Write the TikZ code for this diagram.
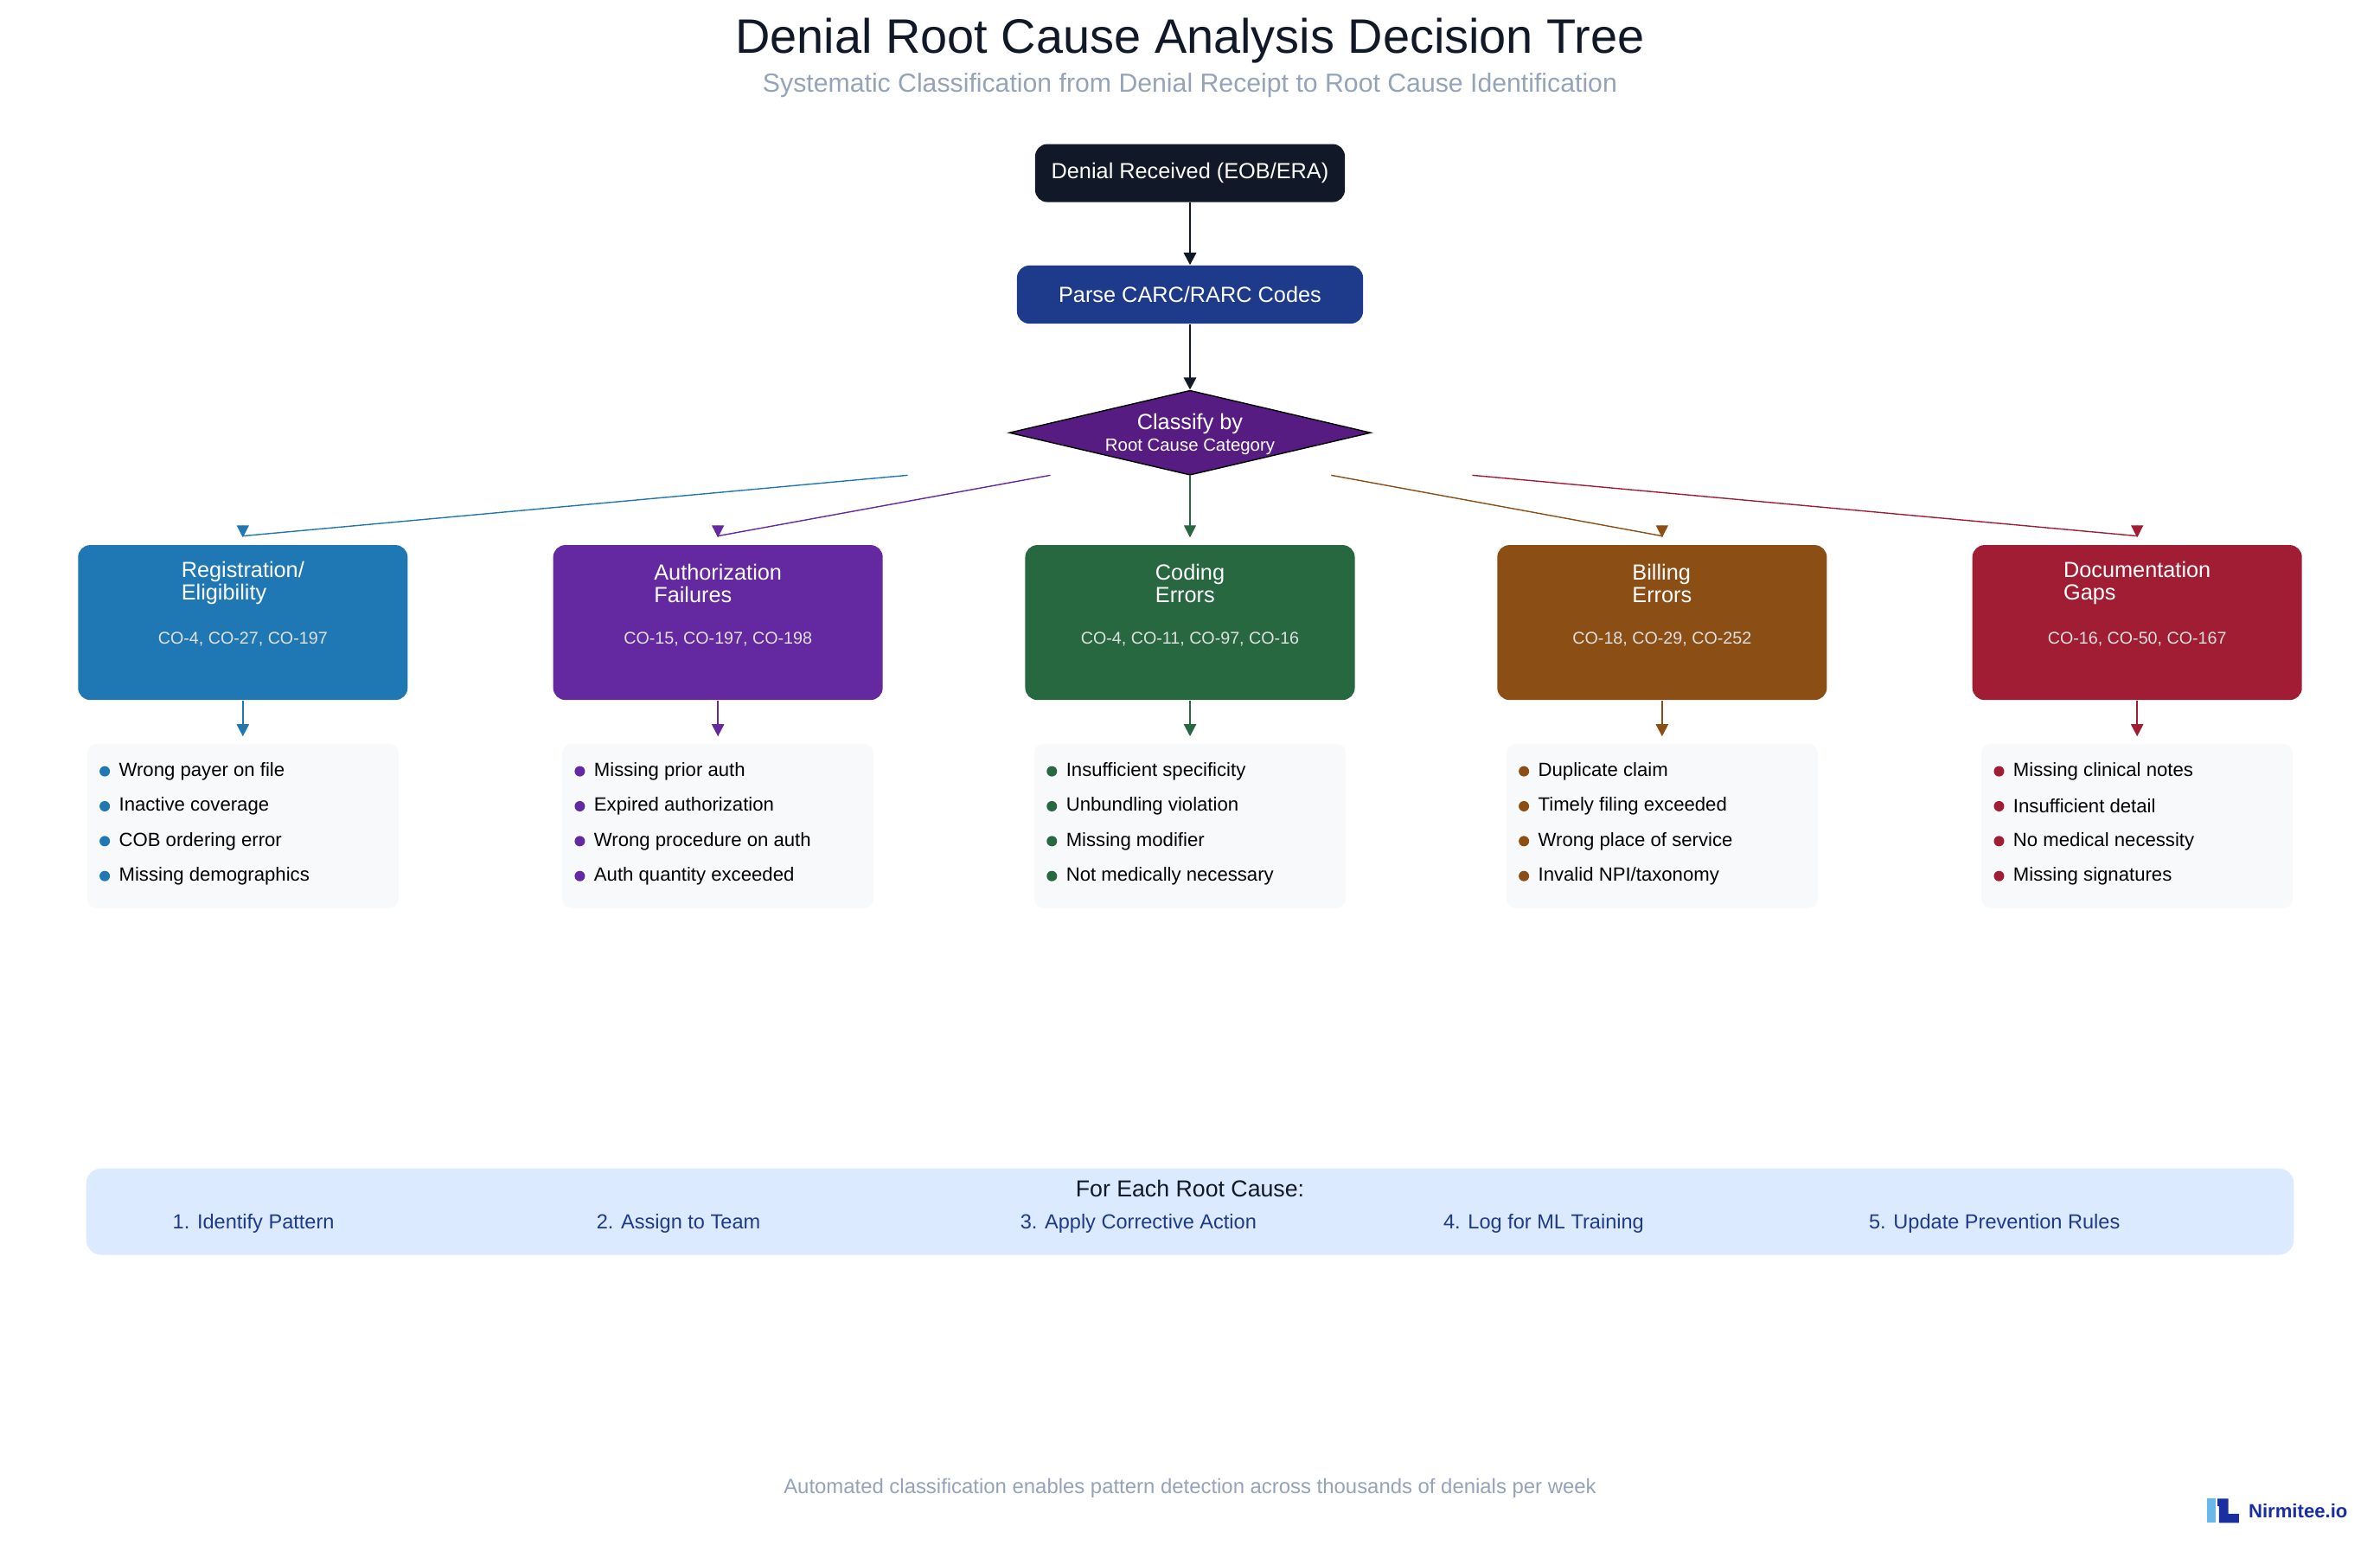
\documentclass[tikz,border=0pt]{standalone}
\usepackage{fontspec}
\setmainfont{Liberation Sans}
\usetikzlibrary{shapes.geometric,arrows.meta,positioning}
\definecolor{ink}{HTML}{111827}
\definecolor{navy}{HTML}{1E3A8A}
\definecolor{violet}{HTML}{561C82}
\definecolor{regc}{HTML}{1F78B4}
\definecolor{authc}{HTML}{6429A0}
\definecolor{codec}{HTML}{276840}
\definecolor{billc}{HTML}{8B4E14}
\definecolor{docc}{HTML}{A01D33}
\definecolor{subgray}{HTML}{94A3B8}
\definecolor{listbg}{HTML}{F7F9FB}
\definecolor{panelbg}{HTML}{DBEAFE}
\tikzset{
  flowbox/.style={rounded corners=4pt,inner sep=0pt,text=white,font=\fontsize{7.2}{8}\selectfont,minimum height=0.67cm},
  cat/.style={rounded corners=4pt,inner sep=0pt,minimum width=3.81cm,minimum height=1.79cm},
  cattitle/.style={text=white,align=left,font=\fontsize{7.2}{7.4}\selectfont,inner sep=0pt},
  codes/.style={text=white!88!black,font=\fontsize{5.6}{6}\selectfont,inner sep=0pt},
  listbox/.style={rounded corners=3pt,fill=listbg,inner sep=0pt,minimum width=3.6cm,minimum height=1.9cm},
  listitem/.style={anchor=west,font=\fontsize{6.3}{7}\selectfont,inner sep=0pt},
  bullet/.style={circle,inner sep=0pt,minimum size=0.12cm},
  flow/.style={-{Triangle[length=4pt,width=4pt]},line width=0.8pt},
  fan/.style={-{Triangle[length=4pt,width=4pt]},line width=0.4pt},
  stepitem/.style={text=navy,font=\fontsize{6.7}{7}\selectfont,inner sep=0pt}
}
\begin{document}
\begin{tikzpicture}[x=0.01755cm,y=-0.01755cm]
\useasboundingbox (0,0) rectangle (1568,1025.6);
% title
\node[font=\fontsize{15.9}{17}\selectfont,text=ink] (title) at (784,27) {Denial Root Cause Analysis Decision Tree};
\node[font=\fontsize{8.6}{10}\selectfont,text=subgray] (subtitle) at (784,56) {Systematic Classification from Denial Receipt to Root Cause Identification};
% main flow
\node[flowbox,fill=ink,minimum width=3.58cm] (recv) at (784,114) {Denial Received (EOB/ERA)};
\node[flowbox,fill=navy,minimum width=4.0cm] (parse) at (784,194) {Parse CARC/RARC Codes};
\node[diamond,fill=violet,draw=black,line width=0.4pt,minimum width=4.18cm,minimum height=0.98cm,aspect=4.25,inner sep=0pt] (cls) at (784,285) {};
\node[text=white,font=\fontsize{7.2}{8}\selectfont,inner sep=0pt] (clsa) at (784,279) {Classify by};
\node[text=white,font=\fontsize{5.8}{6}\selectfont,inner sep=0pt] (clsb) at (784,294) {Root Cause Category};
\draw[flow,ink] (recv) -- (parse);
\draw[flow,ink] (parse) -- (cls);
% fan-out start points
\coordinate (f1) at (598,313);
\coordinate (f2) at (692,313);
\coordinate (f3) at (784,313);
\coordinate (f4) at (877,313);
\coordinate (f5) at (970,313);
% categories
\foreach \i/\x/\col/\ta/\tb/\cd/\la/\lb/\lc/\ld in {
  1/160/regc/Registration\slash/Eligibility/{CO-4, CO-27, CO-197}/Wrong payer on file/Inactive coverage/COB ordering error/Missing demographics,
  2/473/authc/Authorization/Failures/{CO-15, CO-197, CO-198}/Missing prior auth/Expired authorization/Wrong procedure on auth/Auth quantity exceeded,
  3/784/codec/Coding/Errors/{CO-4, CO-11, CO-97, CO-16}/Insufficient specificity/Unbundling violation/Missing modifier/Not medically necessary,
  4/1095/billc/Billing/Errors/{CO-18, CO-29, CO-252}/Duplicate claim/Timely filing exceeded/Wrong place of service/Invalid NPI\slash taxonomy,
  5/1408/docc/Documentation/Gaps/{CO-16, CO-50, CO-167}/Missing clinical notes/Insufficient detail/No medical necessity/Missing signatures}{
  \node[cat,fill=\col] (cat\i) at (\x,410) {};
  \node[cattitle] (t\i) at (\x,384) {\ta\\\tb};
  \node[codes] (c\i) at (\x,421) {\cd};
  \coordinate (in\i) at (\x,353);
  \coordinate (tip\i) at (\x,354);
  \draw[fan,\col] (f\i) -- (in\i) -- (tip\i);
  \coordinate (lt\i) at (\x,485);
  \node[listbox] (list\i) at (\x,544) {};
  \draw[fan,\col,line width=0.6pt] (cat\i) -- (lt\i);
  \foreach \k/\txt/\yy in {1/\la/508,2/\lb/531,3/\lc/554,4/\ld/577}{
    \node[bullet,fill=\col] (d\i\k) at (\x-91,\yy) {};
    \node[listitem] (it\i\k) at (\x-82,\yy) {\txt};
  }
}
% bottom panel
\node[rounded corners=5pt,fill=panelbg,minimum width=25.52cm,minimum height=1.0cm,inner sep=0pt] (panel) at (784,798) {};
\node[font=\fontsize{7.6}{8}\selectfont,text=ink,inner sep=0pt] (ptitle) at (784,783) {For Each Root Cause:};
\node[stepitem] (s1) at (167,806) {1. Identify Pattern};
\node[stepitem] (s2) at (447,806) {2. Assign to Team};
\node[stepitem] (s3) at (750,806) {3. Apply Corrective Action};
\node[stepitem] (s4) at (1017,806) {4. Log for ML Training};
\node[stepitem] (s5) at (1314,806) {5. Update Prevention Rules};
% footer
\node[font=\fontsize{6.8}{7}\selectfont,text=subgray,inner sep=0pt] (foot) at (784,980) {Automated classification enables pattern detection across thousands of denials per week};
% logo
\fill[cyan!80!blue!60] (1454,987) rectangle (1460,1003);
\fill[navy!80!blue] (1462,987) rectangle (1468,1003) (1462,997) rectangle (1475,1003) (1461,987) rectangle (1468,992);
\node[anchor=west,font=\bfseries\fontsize{6.3}{7}\selectfont,text=navy!80!blue,inner sep=0pt] (logo) at (1481,995) {Nirmitee.io};
\end{tikzpicture}
\end{document}
